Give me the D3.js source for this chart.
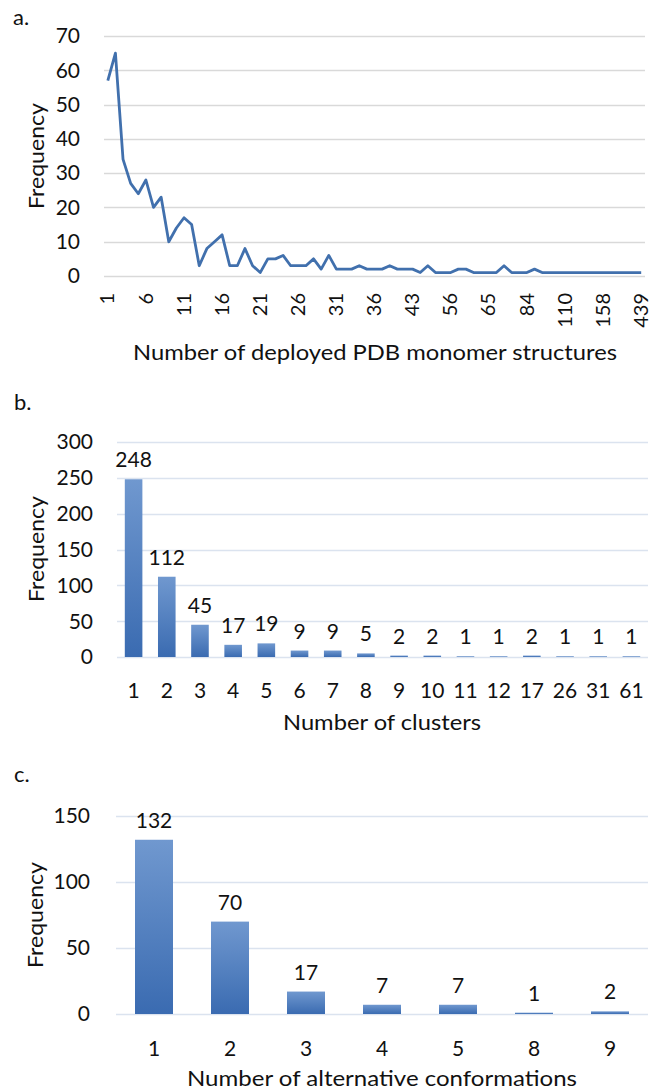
<!DOCTYPE html>
<html>
<head>
<meta charset="utf-8">
<script src="https://cdn.jsdelivr.net/npm/d3@7"></script>
<style>
  html, body { margin: 0; padding: 0; background: #fff; }
  svg { display: block; }
  text { font-family: Lato, "Open Sans", sans-serif; fill: #111; }
</style>
</head>
<body>
<svg id="chart" width="651" height="1092"></svg>
<script>
// ---------- Panel a data ----------
const structureCounts = ["1","2","3","4","5","6","7","8","9","10","11","12","13","14","15","16","17","18","19","20",
  "21","22","23","24","25","26","27","28","29","30","31","32","33","34","35","36","37","38","40","41",
  "43","44","46","48","51","56","57","59","60","62","65","67","70","72","79","84","85","88","93","101",
  "110","115","121","130","142","158","173","199","234","300","439"];
const structureFreq = [57,65,34,27,24,28,20,23,10,14,17,15,3,8,10,12,3,3,8,3,
  1,5,5,6,3,3,3,5,2,6,2,2,2,3,2,2,2,3,2,2,
  2,1,3,1,1,1,2,2,1,1,1,1,3,1,1,1,2,1,1,1,
  1,1,1,1,1,1,1,1,1,1,1];
const structureTickLabels = ["1","6","11","16","21","26","31","36","43","56","65","84","110","158","439"];
const freqTicksA = [0,10,20,30,40,50,60,70];

// ---------- Panel b data ----------
const clusterCounts = ["1","2","3","4","5","6","7","8","9","10","11","12","17","26","31","61"];
const clusterFreq = [248,112,45,17,19,9,9,5,2,2,1,1,2,1,1,1];
const freqTicksB = [0,50,100,150,200,250,300];

// ---------- Panel c data ----------
const confCounts = ["1","2","3","4","5","8","9"];
const confFreq = [132,70,17,7,7,1,2];
const freqTicksC = [0,50,100,150];

const svg = d3.select("#chart");
const FS = 21;    // tick / data label size
const FT = 22;    // title size

// gradient for bars
const defs = svg.append("defs");
const grad = defs.append("linearGradient").attr("id","barGrad")
  .attr("x1",0).attr("y1",0).attr("x2",0).attr("y2",1);
grad.append("stop").attr("offset","0%").attr("stop-color","#7098cf");
grad.append("stop").attr("offset","100%").attr("stop-color","#3a6bb1");

function panelLabel(txt, x, y) {
  svg.append("text").attr("x", x).attr("y", y).attr("font-size", FT).text(txt);
}
function yTitle(cx, cy) {
  svg.append("text").attr("transform", `translate(${cx},${cy}) rotate(-90)`)
    .attr("text-anchor","middle").attr("dy","0.35em").attr("font-size", FT)
    .attr("textLength", 106).attr("lengthAdjust","spacingAndGlyphs")
    .text("Frequency");
}
function xTitle(txt, cx, y, len) {
  svg.append("text").attr("x", cx).attr("y", y).attr("text-anchor","middle")
    .attr("font-size", FT).attr("textLength", len).attr("lengthAdjust","spacingAndGlyphs")
    .text(txt);
}
function gridAndTicks(y, ticks, x0, x1, labelX, gridColor) {
  const g = svg.append("g");
  g.selectAll("line").data(ticks).join("line")
    .attr("x1", x0).attr("x2", x1)
    .attr("y1", d => Math.round(y(d)) + 0.5).attr("y2", d => Math.round(y(d)) + 0.5)
    .attr("stroke", gridColor).attr("stroke-width", 1.3);
  g.selectAll("text").data(ticks).join("text")
    .attr("x", labelX).attr("y", d => y(d)).attr("dy","0.35em")
    .attr("text-anchor","end").attr("font-size", FS).text(d => d);
}

// ================= Panel a =================
{
  const x = d3.scaleBand().domain(structureCounts).range([104, 645]);
  const y = d3.scaleLinear().domain([0, 70]).range([276, 36]);
  panelLabel("a.", 13, 25);
  gridAndTicks(y, freqTicksA, 104, 645, 80, "#d9d9d9");
  const line = d3.line()
    .x((d, i) => x(structureCounts[i]) + x.bandwidth() / 2)
    .y(d => y(d));
  svg.append("path").datum(structureFreq)
    .attr("d", line).attr("fill","none")
    .attr("stroke","#4170ad").attr("stroke-width", 2.8)
    .attr("stroke-linejoin","round");
  svg.append("g").selectAll("text").data(structureTickLabels).join("text")
    .attr("transform", d => `translate(${x(d) + x.bandwidth() / 2},293) rotate(-90)`)
    .attr("text-anchor","end").attr("dy","0.33em").attr("font-size", 20)
    .text(d => d);
  yTitle(36.5, 156);
  xTitle("Number of deployed PDB monomer structures", 375, 360, 484);
}

// ================= Panel b =================
{
  const x = d3.scaleBand().domain(clusterCounts).range([117, 648])
    .paddingInner(0.47).paddingOuter(0.235);
  const y = d3.scaleLinear().domain([0, 300]).range([657, 442]);
  panelLabel("b.", 14, 410);
  gridAndTicks(y, freqTicksB, 117, 648, 93, "#dbe3ef");
  svg.append("g").selectAll("rect").data(clusterFreq).join("rect")
    .attr("x", (d, i) => x(clusterCounts[i]))
    .attr("width", x.bandwidth())
    .attr("y", d => y(d))
    .attr("height", d => y(0) - y(d))
    .attr("fill","url(#barGrad)");
  svg.append("g").selectAll("text").data(clusterFreq).join("text")
    .attr("x", (d, i) => x(clusterCounts[i]) + x.bandwidth() / 2)
    .attr("y", d => y(d) - 12)
    .attr("text-anchor","middle").attr("font-size", FS).text(d => d);
  svg.append("g").selectAll("text").data(clusterCounts).join("text")
    .attr("x", d => x(d) + x.bandwidth() / 2).attr("y", 698)
    .attr("text-anchor","middle").attr("font-size", FS).text(d => d);
  yTitle(36.5, 549);
  xTitle("Number of clusters", 382, 730, 198);
}

// ================= Panel c =================
{
  const x = d3.scaleBand().domain(confCounts).range([116, 648])
    .paddingInner(0.5).paddingOuter(0.25);
  const y = d3.scaleLinear().domain([0, 150]).range([1014, 816]);
  panelLabel("c.", 14, 782);
  gridAndTicks(y, freqTicksC, 116, 648, 90, "#dbe3ef");
  svg.append("g").selectAll("rect").data(confFreq).join("rect")
    .attr("x", (d, i) => x(confCounts[i]))
    .attr("width", x.bandwidth())
    .attr("y", d => y(d))
    .attr("height", d => y(0) - y(d))
    .attr("fill","url(#barGrad)");
  svg.append("g").selectAll("text").data(confFreq).join("text")
    .attr("x", (d, i) => x(confCounts[i]) + x.bandwidth() / 2)
    .attr("y", d => y(d) - 12)
    .attr("text-anchor","middle").attr("font-size", FS).text(d => d);
  svg.append("g").selectAll("text").data(confCounts).join("text")
    .attr("x", d => x(d) + x.bandwidth() / 2).attr("y", 1056)
    .attr("text-anchor","middle").attr("font-size", FS).text(d => d);
  yTitle(35, 915);
  xTitle("Number of alternative conformations", 382, 1086, 390);
}
</script>
</body>
</html>
